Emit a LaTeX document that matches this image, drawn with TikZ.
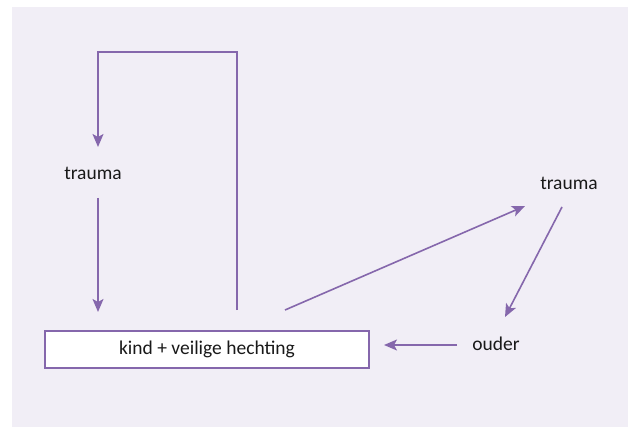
\documentclass[tikz,border=0pt]{standalone}
\usepackage{fontspec}
\setmainfont{Carlito}
\usetikzlibrary{arrows.meta}
\definecolor{bgc}{RGB}{241,238,246}
\definecolor{lc}{RGB}{133,103,172}
\tikzset{
  conn/.style={draw=lc, line width=1.6pt},
  arr/.style={conn, -{Stealth[length=13pt,width=11pt,inset=3pt]}},
  lbl/.style={inner sep=0pt, font=\fontsize{19.5}{22}\selectfont, text=black!90},
  boxnode/.style={draw=lc, line width=1.6pt, fill=white, minimum width=324pt, minimum height=37pt, inner sep=0pt, font=\fontsize{19.5}{22}\selectfont, text=black!90}
}
\begin{document}
\begin{tikzpicture}[x=1pt,y=-1pt]
\useasboundingbox (0,0) rectangle (628,427);
\fill[bgc] (12,7) rectangle (628,427);
\node[boxnode] (box) at (207,349.5) {kind + veilige hechting};
\node[lbl] (t1) at (93,173) {trauma};
\node[lbl] (t2) at (569,183) {trauma};
\node[lbl] (ouder) at (496,344) {ouder};
\coordinate (a1) at (237,310);
\coordinate (a2) at (98,52);
\coordinate (a3) at (98,147);
\coordinate (b1) at (98,198);
\coordinate (b2) at (98,312);
\coordinate (c1) at (285,310);
\coordinate (c2) at (525,206);
\coordinate (d1) at (562,207);
\coordinate (d2) at (505,317);
\coordinate (e1) at (457,345);
\coordinate (e2) at (384,345);
\draw[arr] (a1) |- (a2) -- (a3);
\draw[arr] (b1) -- (b2);
\draw[arr] (c1) -- (c2);
\draw[arr] (d1) -- (d2);
\draw[arr] (e1) -- (e2);
\end{tikzpicture}
\end{document}
